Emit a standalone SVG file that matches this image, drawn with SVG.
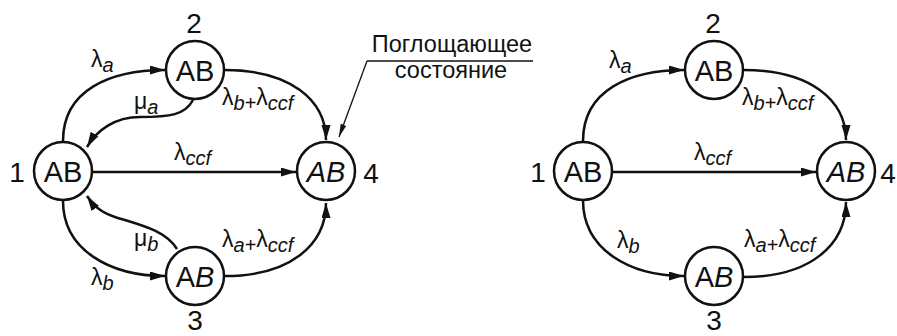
<svg xmlns="http://www.w3.org/2000/svg" width="897" height="336" viewBox="0 0 897 336">
<defs>
<marker id="ah" markerUnits="userSpaceOnUse" markerWidth="16" markerHeight="10" refX="15" refY="4.5" orient="auto">
<path d="M0,0 L15,4.5 L0,9 z" fill="#111"/>
</marker>
<marker id="ahs" markerUnits="userSpaceOnUse" markerWidth="14" markerHeight="8" refX="13" refY="3" orient="auto">
<path d="M0,0 L13,3 L0,6 z" fill="#111"/>
</marker>
<style>
.n circle{fill:#fff;stroke:#111;stroke-width:2.5}
.nt{font-family:"Liberation Sans",Arial,sans-serif;font-size:29px;fill:#111;text-anchor:middle}
.num{font-family:"Liberation Sans",Arial,sans-serif;font-size:28px;fill:#111;text-anchor:middle}
.c path{fill:none;stroke:#111;stroke-width:2.5;marker-end:url(#ah)}
.lb{font-family:"Liberation Sans",Arial,sans-serif;font-size:23px;fill:#111}
.s{font-style:italic;font-size:20px}
.p{font-size:20px}
.cap{font-family:"Liberation Sans",Arial,sans-serif;font-size:23.5px;fill:#111;text-anchor:middle}
</style>
</defs>
<rect width="897" height="336" fill="#fff"/>
<g id="connectors" class="c">
<path d="M63,141 C63,90 110,70 165,70"/>
<path d="M193,100 C185,115 170,117 140,117 C115,117 97,130 87,147"/>
<path d="M225,70 C290,70 326,100 326,140"/>
<path d="M93,172 L296,172"/>
<path d="M63,201 C63,250 110,276 165,276"/>
<path d="M177,249 C165,230 140,225 115,217 C100,212 93,205 87,196"/>
<path d="M225,276 C290,276 326,245 326,203"/>
<path d="M583,141 C583,90 630,70 684,70"/>
<path d="M744,70 C810,70 846,100 846,140"/>
<path d="M612,172 L816,172"/>
<path d="M583,200 C583,250 630,276 684,276"/>
<path d="M744,277 C810,277 846,245 846,202"/>
</g>
<g id="callout">
<polyline points="533,61 367,61" fill="none" stroke="#111" stroke-width="1.3"/>
<line x1="367" y1="61" x2="339" y2="137" stroke="#111" stroke-width="1.3" marker-end="url(#ahs)"/>
<text class="cap" x="452" y="52">Поглощающее</text>
<text class="cap" x="451" y="78">состояние</text>
</g>
<g id="labels" class="lb">
<text x="91" y="67">λ<tspan class="s" dy="5">a</tspan></text>
<text x="134" y="109">μ<tspan class="s" dy="5">a</tspan></text>
<text x="222" y="105">λ<tspan class="s" dy="5">b</tspan><tspan class="p">+</tspan><tspan dy="-5">λ</tspan><tspan class="s" dy="5">ccf</tspan></text>
<text x="174" y="160">λ<tspan class="s" dy="5">ccf</tspan></text>
<text x="134" y="246">μ<tspan class="s" dy="5">b</tspan></text>
<text x="91" y="285">λ<tspan class="s" dy="5">b</tspan></text>
<text x="222" y="247">λ<tspan class="s" dy="5">a</tspan><tspan class="p">+</tspan><tspan dy="-5">λ</tspan><tspan class="s" dy="5">ccf</tspan></text>
<text x="609" y="68">λ<tspan class="s" dy="5">a</tspan></text>
<text x="742" y="105">λ<tspan class="s" dy="5">b</tspan><tspan class="p">+</tspan><tspan dy="-5">λ</tspan><tspan class="s" dy="5">ccf</tspan></text>
<text x="694" y="160">λ<tspan class="s" dy="5">ccf</tspan></text>
<text x="617" y="248">λ<tspan class="s" dy="5">b</tspan></text>
<text x="744" y="247">λ<tspan class="s" dy="5">a</tspan><tspan class="p">+</tspan><tspan dy="-5">λ</tspan><tspan class="s" dy="5">ccf</tspan></text>
</g>
<g id="L1" class="n"><circle cx="63" cy="171" r="29"/><text class="nt" x="63" y="181.5">AB</text><text class="num" x="17" y="182">1</text></g>
<g id="L2" class="n"><circle cx="195" cy="70" r="29"/><text class="nt" x="195" y="80.5">AB</text><text class="num" x="194" y="33">2</text></g>
<g id="L3" class="n"><circle cx="195" cy="276" r="29"/><text class="nt" x="195" y="286.5">A<tspan font-style="italic">B</tspan></text><text class="num" x="195" y="330">3</text></g>
<g id="L4" class="n"><circle cx="326" cy="171" r="29"/><text class="nt" x="326" y="181.5" font-style="italic">AB</text><text class="num" x="371" y="183">4</text></g>
<g id="R1" class="n"><circle cx="583" cy="171" r="29"/><text class="nt" x="583" y="181.5">AB</text><text class="num" x="538" y="182">1</text></g>
<g id="R2" class="n"><circle cx="714" cy="70" r="29"/><text class="nt" x="714" y="80.5">AB</text><text class="num" x="713" y="33">2</text></g>
<g id="R3" class="n"><circle cx="714" cy="276" r="29"/><text class="nt" x="714" y="286.5">A<tspan font-style="italic">B</tspan></text><text class="num" x="714" y="330">3</text></g>
<g id="R4" class="n"><circle cx="846" cy="171" r="29"/><text class="nt" x="846" y="181.5" font-style="italic">AB</text><text class="num" x="888" y="183">4</text></g>
</svg>
